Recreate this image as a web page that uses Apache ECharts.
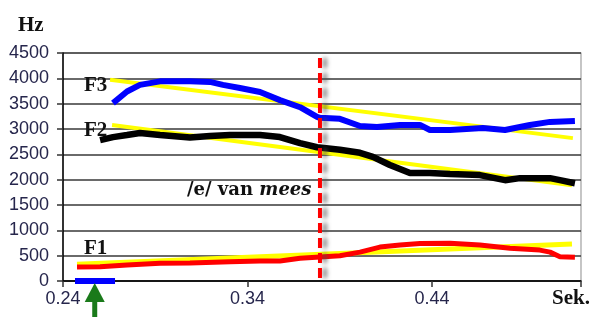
<!DOCTYPE html>
<html>
<head>
<meta charset="utf-8">
<script src="https://cdn.jsdelivr.net/npm/echarts@6/dist/echarts.min.js"></script>
<style>
html,body{margin:0;padding:0;background:#fff;}
#c{width:600px;height:335px;}
</style>
</head>
<body>
<div id="c"></div>
<script>
// ---- data (time in seconds, frequency in Hz) ----
const yTicks = [0, 500, 1000, 1500, 2000, 2500, 3000, 3500, 4000, 4500];
const xTickLabels = ['0.24', '0.34', '0.44'];

const f3Time = [0.2671, 0.2747, 0.2817, 0.2926, 0.3088, 0.3197, 0.3267, 0.3359, 0.3468, 0.3576, 0.3685, 0.3777, 0.3793, 0.3901, 0.4010, 0.4102, 0.4227, 0.4335, 0.4389, 0.4498, 0.4676, 0.4796, 0.4931, 0.5040, 0.5175];
const f3Hz   = [3510, 3740, 3870, 3940, 3940, 3930, 3870, 3810, 3730, 3570, 3430, 3240, 3220, 3200, 3060, 3040, 3080, 3080, 2980, 2980, 3020, 2980, 3080, 3140, 3160];

const f2Time = [0.2601, 0.2671, 0.2747, 0.2817, 0.2926, 0.3088, 0.3197, 0.3305, 0.3468, 0.3576, 0.3685, 0.3777, 0.3901, 0.4010, 0.4080, 0.4172, 0.4281, 0.4389, 0.4498, 0.4660, 0.4796, 0.4877, 0.5040, 0.5094, 0.5175];
const f2Hz   = [2780, 2840, 2880, 2920, 2880, 2830, 2860, 2880, 2880, 2840, 2720, 2640, 2590, 2530, 2450, 2290, 2130, 2130, 2110, 2090, 1990, 2030, 2030, 1990, 1930];

const f1Time = [0.2476, 0.2601, 0.2747, 0.2926, 0.3088, 0.3305, 0.3468, 0.3576, 0.3685, 0.3793, 0.3901, 0.4010, 0.4118, 0.4227, 0.4335, 0.4498, 0.4660, 0.4823, 0.4985, 0.5040, 0.5094, 0.5175];
const f1Hz   = [275, 280, 315, 350, 355, 380, 395, 395, 450, 475, 500, 570, 670, 710, 740, 745, 710, 645, 610, 570, 480, 470];

const trendF3Time = [0.2655, 0.5164];
const trendF3Hz   = [3970, 2820];
const trendF2Time = [0.2666, 0.5159];
const trendF2Hz   = [3080, 1890];
const trendF1Time = [0.2476, 0.5159];
const trendF1Hz   = [330, 730];

const segTime = [0.2465, 0.2682];   // blue segment on the time axis
const segHz   = [0, 0];
const markTime = [0.3793, 0.3793];  // red dashed marker
const markHz   = [4400, 0];
const arrowTime = 0.2572;

const pairs = (t, v) => t.map((x, i) => [x, v[i]]);

const labelColor = '#26264c';
const serif = 'Liberation Serif';
const chart = echarts.init(document.getElementById('c'), null, {renderer: 'canvas'});

const option = {
  animation: false,
  backgroundColor: '#ffffff',
  grid: {left: 63, right: 19, top: 53, bottom: 54, show: true, borderColor: '#a0a0a0', borderWidth: 1.2},
  xAxis: {
    type: 'value', min: 0.24, max: 0.5208, interval: 0.1,
    axisLine: {show: true, onZero: false, lineStyle: {color: '#000', width: 1.5}},
    axisTick: {show: true, length: 6, lineStyle: {color: '#333', width: 1.5}},
    splitLine: {show: false},
    axisLabel: {
      margin: 9, fontSize: 18, color: labelColor, fontFamily: 'Liberation Sans',
      formatter: v => { const s = v.toFixed(2); return xTickLabels.includes(s) ? s : ''; }
    }
  },
  yAxis: {
    type: 'value', min: 0, max: 4500, interval: 500,
    axisLine: {show: true, lineStyle: {color: '#000', width: 1.5}},
    axisTick: {show: true, length: 6, lineStyle: {color: '#333', width: 1.5}},
    splitLine: {show: true, lineStyle: {color: '#383838', width: 1.5}},
    axisLabel: {
      margin: 14, fontSize: 18, color: labelColor, fontFamily: 'Liberation Sans',
      formatter: v => yTicks.includes(v) ? String(v) : ''
    }
  },
  series: [
    {type: 'line', data: pairs(trendF3Time, trendF3Hz), showSymbol: false, z: 2, lineStyle: {color: '#ffff00', width: 4}},
    {type: 'line', data: pairs(trendF2Time, trendF2Hz), showSymbol: false, z: 2, lineStyle: {color: '#ffff00', width: 4}},
    {type: 'line', data: pairs(trendF1Time, trendF1Hz), showSymbol: false, z: 2, lineStyle: {color: '#ffff00', width: 5}},
    {type: 'line', data: pairs(f3Time, f3Hz), showSymbol: false, z: 3, lineStyle: {color: '#0000ff', width: 6}},
    {type: 'line', data: pairs(f2Time, f2Hz), showSymbol: false, z: 3, lineStyle: {color: '#000000', width: 6.5}},
    {type: 'line', data: pairs(f1Time, f1Hz), showSymbol: false, z: 3, lineStyle: {color: '#ff0000', width: 5}},
    {type: 'line', data: pairs(segTime, segHz), showSymbol: false, z: 5, clip: false, lineStyle: {color: '#0000ff', width: 6}},
    {type: 'line', data: pairs(markTime, markHz), showSymbol: false, z: 6, clip: false,
      lineStyle: {color: '#ff0000', width: 4, type: [10, 5], shadowColor: 'rgba(80,80,80,0.7)', shadowBlur: 4, shadowOffsetX: 5, shadowOffsetY: 0}}
  ]
};
chart.setOption(option);

// green arrow pointing at the blue segment, placed through the axis scale
const p = chart.convertToPixel({gridIndex: 0}, [arrowTime, 0]);
const ax = p[0], ay = p[1] + 2;
const bold = (txt, size) => ({text: txt, fontSize: size, fontWeight: 'bold', fontFamily: serif, fill: '#111'});
chart.setOption({
  graphic: [
    {id: 'hz', type: 'text', left: 18, top: 15, style: bold('Hz', 21)},
    {id: 'f3', type: 'text', left: 84, top: 75, z: 10, style: bold('F3', 21)},
    {id: 'f2', type: 'text', left: 84, top: 120, z: 10, style: bold('F2', 21)},
    {id: 'f1', type: 'text', left: 84, top: 238, z: 10, style: bold('F1', 21)},
    {id: 'ev', type: 'text', left: 187, top: 181, z: 10, style: {
      text: '{n|/e/ van }{i|mees}',
      rich: {
        n: {fontSize: 18, fontWeight: 'bold', fontFamily: 'DejaVu Serif', fill: '#111'},
        i: {fontSize: 18, fontWeight: 'bold', fontStyle: 'italic', fontFamily: 'DejaVu Serif', fill: '#111'}
      }}},
    {id: 'sek', type: 'text', left: 552, top: 288, z: 10, style: bold('Sek.', 21)},
    {id: 'ah', type: 'polygon', z: 12, shape: {points: [[ax, ay], [ax - 10, ay + 19], [ax + 10, ay + 19]]}, style: {fill: '#1a7a1a'}},
    {id: 'as', type: 'rect', z: 12, shape: {x: ax - 2.5, y: ay + 18, width: 5, height: 16}, style: {fill: '#1a7a1a'}}
  ]
});
</script>
</body>
</html>
